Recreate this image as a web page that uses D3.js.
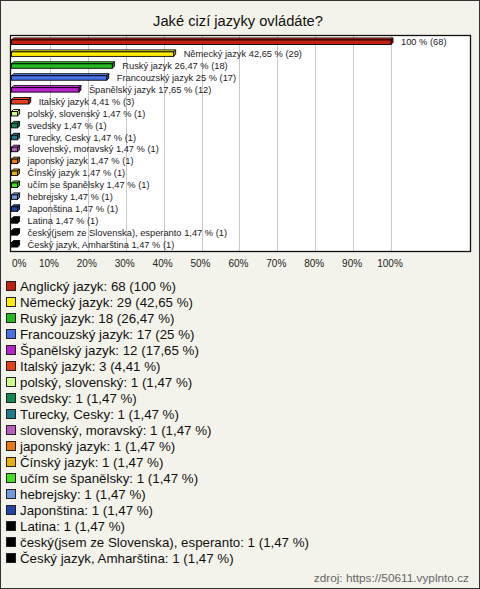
<!DOCTYPE html>
<html>
<head>
<meta charset="utf-8">
<script src="https://cdn.jsdelivr.net/npm/d3@7/dist/d3.min.js"></script>
<style>
  html, body { margin: 0; padding: 0; background: #fff; }
  svg { display: block; }
  text { font-family: "Liberation Sans", Arial, sans-serif; }
</style>
</head>
<body>
<svg id="chart" width="480" height="589"></svg>
<script>
const title = "Jaké cizí jazyky ovládáte?";
const categories = [
  "Anglický jazyk", "Německý jazyk", "Ruský jazyk", "Francouzský jazyk", "Španělský jazyk",
  "Italský jazyk", "polský, slovenský", "svedsky", "Turecky, Cesky", "slovenský, moravský",
  "japonský jazyk", "Čínský jazyk", "učím se španělsky", "hebrejsky", "Japonština",
  "Latina", "český(jsem ze Slovenska), esperanto", "Český jazyk, Amharština"
];
const counts = [68, 29, 18, 17, 12, 3, 1, 1, 1, 1, 1, 1, 1, 1, 1, 1, 1, 1];
const percents = [100, 42.65, 26.47, 25, 17.65, 4.41, 1.47, 1.47, 1.47, 1.47, 1.47, 1.47, 1.47, 1.47, 1.47, 1.47, 1.47, 1.47];
const colors = [
  "#c4200e", "#ffee00", "#22bb22", "#4a70e8", "#b822cc", "#e8401a", "#ccff88", "#0e8a50",
  "#1f7a8c", "#b85cc0", "#e87a10", "#e8b000", "#44dd22", "#6f9be0", "#2244aa",
  "#000000", "#000000", "#000000"
];
const ticks = [0, 10, 20, 30, 40, 50, 60, 70, 80, 90, 100];
const source = "zdroj: https://50611.vyplnto.cz";

const fmt = v => String(v).replace(".", ",");
const svg = d3.select("#chart");

// outer frame
svg.append("rect").attr("x", 0.5).attr("y", 0.5).attr("width", 479).attr("height", 588)
  .attr("fill", "#f4f3eb").attr("stroke", "#333").attr("stroke-width", 1);

svg.append("text").attr("x", 238).attr("y", 26).attr("text-anchor", "middle")
  .attr("font-size", "14.7px").attr("fill", "#111").text(title);

// plot area
const plot = { left: 10.5, top: 35.5, right: 470.5, bottom: 251.5 };
svg.append("rect").attr("x", plot.left).attr("y", plot.top)
  .attr("width", plot.right - plot.left).attr("height", plot.bottom - plot.top)
  .attr("fill", "#fff");

const x = d3.scaleLinear().domain([0, 100]).range([12, 391]);
const y = d3.scaleBand().domain(categories).range([36, 250.5]).padding(0);

svg.append("g").selectAll("line").data(ticks.filter(t => t > 0)).join("line")
  .attr("x1", d => Math.round(x(d)) + 0.5).attr("x2", d => Math.round(x(d)) + 0.5)
  .attr("y1", plot.top).attr("y2", plot.bottom)
  .attr("stroke", "#c8c8c8").attr("stroke-width", 1);

svg.append("rect").attr("x", plot.left).attr("y", plot.top)
  .attr("width", plot.right - plot.left).attr("height", plot.bottom - plot.top)
  .attr("fill", "none").attr("stroke", "#111").attr("stroke-width", 1.3);

// bars (pseudo-3D)
const depth = 2;
const bars = svg.append("g").selectAll("g").data(categories).join("g");
bars.each(function(c, i) {
  const g = d3.select(this);
  const cy = y(c) + y.bandwidth() / 2;
  const x0 = x(0) - 0.5, x1 = x(percents[i]);
  const yt = cy - 2, yb = cy + 2.5;
  const col = d3.color(colors[i]);
  const light = col.brighter(0.6).formatHex();
  const dark = col.darker(0.6).formatHex();
  g.append("polygon")
    .attr("points", [[x0, yt], [x0 + depth, yt - depth], [x1 + depth, yt - depth], [x1, yt]].join(" "))
    .attr("fill", light).attr("stroke", "#000").attr("stroke-width", 0.9);
  g.append("polygon")
    .attr("points", [[x1, yt], [x1 + depth, yt - depth], [x1 + depth, yb - depth], [x1, yb]].join(" "))
    .attr("fill", dark).attr("stroke", "#000").attr("stroke-width", 0.9);
  g.append("rect").attr("x", x0).attr("y", yt).attr("width", x1 - x0).attr("height", yb - yt)
    .attr("fill", colors[i]).attr("stroke", "#000").attr("stroke-width", 0.9);
  const label = (i === 0 ? "" : c + " ") + fmt(percents[i]) + " % (" + counts[i] + ")";
  g.append("text").attr("x", x1 + 10).attr("y", cy).attr("dy", "0.35em")
    .attr("font-size", "9.3px").attr("fill", "#222").text(label);
});

// tick labels
svg.append("g").selectAll("text").data(ticks).join("text")
  .attr("x", d => d === 0 ? x(d) : x(d) - 1)
  .attr("y", 267)
  .attr("text-anchor", d => d === 0 ? "start" : "middle")
  .attr("font-size", "10px").attr("fill", "#222")
  .text(d => d + "%");

// legend
const legY = d3.scaleLinear().domain([0, categories.length - 1]).range([286, 558]);
const leg = svg.append("g").selectAll("g").data(categories).join("g")
  .attr("transform", (d, i) => `translate(0,${legY(i)})`);
leg.append("rect").attr("x", 6.5).attr("y", -4.5).attr("width", 9).attr("height", 9)
  .attr("fill", (d, i) => colors[i]).attr("stroke", "#222").attr("stroke-width", 1);
leg.append("text").attr("x", 20).attr("y", 0).attr("dy", "0.36em")
  .attr("font-size", "13.3px").attr("fill", "#111")
  .text((d, i) => `${d}: ${counts[i]} (${fmt(percents[i])} %)`);

svg.append("text").attr("x", 469).attr("y", 582).attr("text-anchor", "end")
  .attr("font-size", "11.8px").attr("fill", "#666").text(source);
</script>
</body>
</html>
